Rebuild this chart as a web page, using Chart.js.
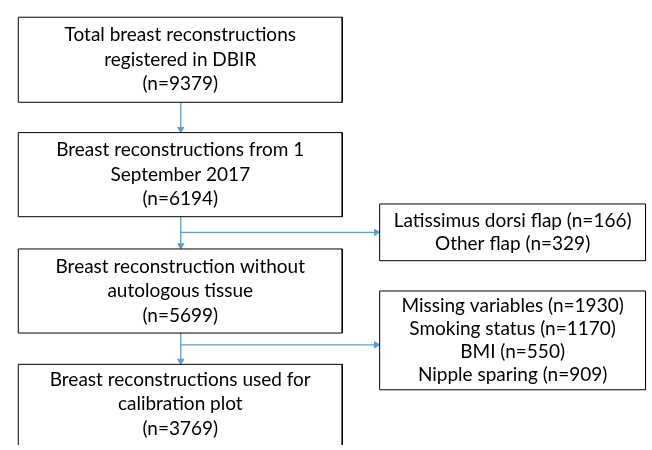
<!DOCTYPE html>
<html><head><meta charset="utf-8">
<script src="https://cdn.jsdelivr.net/npm/chart.js@4/dist/chart.umd.min.js"></script>
<style>html,body{margin:0;padding:0;background:#fff}canvas{display:block}</style>
</head><body>
<canvas id="c" width="652" height="450"></canvas>
<script>
// ---- data ----
const mainStepLines = [
  ["Total breast reconstructions", "registered in DBIR"],
  ["Breast reconstructions from 1", "September 2017"],
  ["Breast reconstruction without", "autologous tissue"],
  ["Breast reconstructions used for", "calibration plot"]
];
const mainCounts = [9379, 6194, 5699, 3769];
const flapExclusions = ["Latissimus dorsi flap", "Other flap"];
const flapCounts = [166, 329];
const missingExclusions = ["Missing variables", "Smoking status", "BMI", "Nipple sparing"];
const missingCounts = [1930, 1170, 550, 909];

// ---- layout (coordinates in a 652 x 450 space) ----
const mainBoxes = [
  {x0: 13.5, x1: 342.5, y0: 12.5, y1: 99.5},
  {x0: 13.5, x1: 342.5, y0: 130.5, y1: 216.5},
  {x0: 13.5, x1: 342.5, y0: 249.5, y1: 335.5},
  {x0: 13.5, x1: 342.5, y0: 367.5, y1: 455}
];
const sideBoxes = [
  {x0: 380.5, x1: 650.5, y0: 203.5, y1: 261.5},
  {x0: 380.5, x1: 650.5, y0: 292.5, y1: 393.5}
];
const spineX = 178.5;
const branchY = [232.5, 347.5];
const HEAD = 3.5;
const FONT = '19px Lato, "Open Sans", sans-serif';
const BOX_COLOR = '#000000';
const ARROW_COLOR = '#5B9BD5';

const mainTexts = mainStepLines.map((l, i) => l.concat(['(n=' + mainCounts[i] + ')']));
const sideTexts = [
  flapExclusions.map((l, i) => l + ' (n=' + flapCounts[i] + ')'),
  missingExclusions.map((l, i) => l + ' (n=' + missingCounts[i] + ')')
];

function rectDataset(b) {
  return {
    type: 'line',
    data: [{x: b.x0, y: b.y0}, {x: b.x1, y: b.y0}, {x: b.x1, y: b.y1}, {x: b.x0, y: b.y1}, {x: b.x0, y: b.y0}],
    borderColor: BOX_COLOR, borderWidth: 1, pointRadius: 0, showLine: true, fill: false, tension: 0
  };
}
function arrowDataset(x0, y0, x1, y1, rot) {
  return {
    type: 'line',
    data: [{x: x0, y: y0}, {x: x1, y: y1}],
    borderColor: ARROW_COLOR, borderWidth: 1.3, showLine: true, fill: false,
    pointStyle: 'triangle', pointRadius: [0, HEAD], pointRotation: [0, rot],
    pointBackgroundColor: ARROW_COLOR, pointBorderColor: ARROW_COLOR, pointBorderWidth: 1
  };
}

const datasets = [];
mainBoxes.forEach(b => datasets.push(rectDataset(b)));
sideBoxes.forEach(b => datasets.push(rectDataset(b)));
datasets.push(arrowDataset(spineX, mainBoxes[0].y1, spineX, mainBoxes[1].y0 - HEAD, 180));
datasets.push(arrowDataset(spineX, mainBoxes[1].y1, spineX, mainBoxes[2].y0 - HEAD, 180));
datasets.push(arrowDataset(spineX, mainBoxes[2].y1, spineX, mainBoxes[3].y0 - HEAD, 180));
datasets.push(arrowDataset(spineX, branchY[0], sideBoxes[0].x0 - HEAD, branchY[0], 90));
datasets.push(arrowDataset(spineX, branchY[1], sideBoxes[1].x0 - HEAD, branchY[1], 90));

const textPlugin = {
  id: 'boxText',
  afterDatasetsDraw(chart) {
    const {ctx, scales: {x, y}} = chart;
    ctx.save();
    ctx.fillStyle = '#000';
    ctx.font = FONT;
    ctx.textAlign = 'center';
    ctx.textBaseline = 'middle';
    const draw = (box, lines, lh) => {
      const cx = x.getPixelForValue((box.x0 + box.x1) / 2);
      const top = y.getPixelForValue(box.y0), bot = y.getPixelForValue(box.y1);
      const cy = (top + bot) / 2;
      lines.forEach((t, i) => ctx.fillText(t, cx, cy + (i - (lines.length - 1) / 2) * lh));
    };
    mainBoxes.forEach((b, i) => {
      const bb = i === 3 ? {x0: b.x0, x1: b.x1, y0: b.y0, y1: 449} : b;
      draw(bb, mainTexts[i], 24.5);
    });
    sideBoxes.forEach((b, i) => draw(b, sideTexts[i], 23));
    ctx.restore();
  }
};

new Chart(document.getElementById('c'), {
  type: 'scatter',
  data: {datasets},
  options: {
    responsive: false, animation: false, devicePixelRatio: 1,
    layout: {padding: 0},
    plugins: {legend: {display: false}, tooltip: {enabled: false}},
    scales: {
      x: {type: 'linear', min: 0, max: 652, display: false},
      y: {type: 'linear', min: 0, max: 450, reverse: true, display: false}
    },
    elements: {line: {borderCapStyle: 'butt'}}
  },
  plugins: [textPlugin]
});
</script>
</body></html>
